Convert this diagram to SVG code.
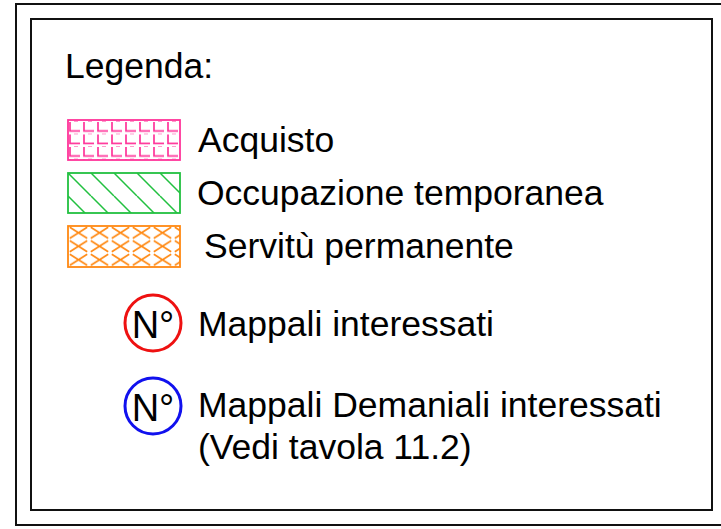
<svg xmlns="http://www.w3.org/2000/svg" width="721" height="529" viewBox="0 0 721 529">
  <defs>
    <pattern id="pAcq" patternUnits="userSpaceOnUse" x="68" y="121" width="14" height="12.5">
      <path d="M2,1 V10 H12 M6,-0.3 H10" stroke="#ff3399" stroke-width="1.7" fill="none"/>
    </pattern>
    <pattern id="pOcc" patternUnits="userSpaceOnUse" x="68" y="173" width="23" height="23">
      <path d="M0,0 L23,23 M-23,0 L0,23 M23,0 L46,23" stroke="#22c040" stroke-width="1.5" fill="none"/>
    </pattern>
    <pattern id="pSer" patternUnits="userSpaceOnUse" x="68" y="226" width="21" height="13.5">
      <path d="M1.8,1.1 L19.2,12.4 M19.2,1.1 L1.8,12.4" stroke="#ff8811" stroke-width="1.7" fill="none"/>
    </pattern>
    <style>
      .frame { fill: none; stroke: #111; stroke-width: 2; }
      .lbl { font-family: "Liberation Sans", Arial, sans-serif; font-size: 35.5px; fill: #000; }
      .no { font-family: "Liberation Sans", Arial, sans-serif; font-size: 38px; fill: #000; text-anchor: middle; }
    </style>
  </defs>
  <rect width="721" height="529" fill="#fff"/>
  <g id="frames">
    <rect class="frame" x="16" y="4" width="720" height="521"/>
    <rect class="frame" x="31" y="19" width="681" height="491"/>
  </g>
  <g id="title">
    <text class="lbl" x="65" y="78">Legenda:</text>
  </g>
  <g id="acquisto">
    <rect x="68" y="120" width="112" height="40" fill="url(#pAcq)" stroke="#ff3399" stroke-width="1.8"/>
    <text class="lbl" x="198" y="152">Acquisto</text>
  </g>
  <g id="occupazione">
    <rect x="68" y="173" width="112" height="40" fill="url(#pOcc)" stroke="#22c040" stroke-width="1.8"/>
    <text class="lbl" x="197" y="205">Occupazione temporanea</text>
  </g>
  <g id="servitu">
    <rect x="68" y="226" width="112" height="41" fill="url(#pSer)" stroke="#ff8811" stroke-width="1.8"/>
    <text class="lbl" x="204" y="258">Servitù permanente</text>
  </g>
  <g id="mappali">
    <circle cx="153" cy="323" r="28" fill="none" stroke="#ee1111" stroke-width="3"/>
    <text class="no" x="153" y="338">N°</text>
    <text class="lbl" x="198" y="336">Mappali interessati</text>
  </g>
  <g id="demaniali">
    <circle cx="153" cy="406" r="28" fill="none" stroke="#1111ee" stroke-width="3"/>
    <text class="no" x="153" y="421">N°</text>
    <text class="lbl" x="198" y="417">Mappali Demaniali interessati</text>
    <text class="lbl" x="198" y="459">(Vedi tavola 11.2)</text>
  </g>
</svg>
